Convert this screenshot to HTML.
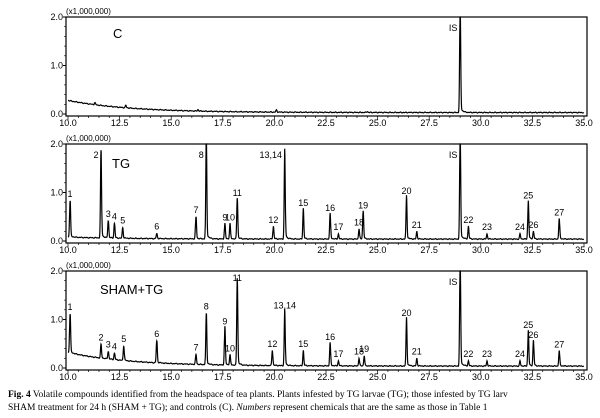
<!DOCTYPE html><html><head><style>body{margin:0;background:#fff}svg{display:block}text{font-family:"Liberation Sans",sans-serif}text.cap{font-family:"Liberation Serif",serif}</style></head><body>
<svg id="s" width="600" height="418" xmlns="http://www.w3.org/2000/svg"></svg>
<script>
const S=document.getElementById('s');let h='';
const X=t=>68+(t-10)*20.64;
const panels=[
{top:17,name:'C',nx:113,ny:38,base:t=>0.03+0.25*Math.exp(-(t-10)/3),
 peaks:[[29.0,2.1,''],[12.8,0.05,''],[11.3,0.04,''],[16.3,0.03,''],[20.1,0.04,''],[24.5,0.02,'']],labels:[[29.0,'IS',-12]]},
{top:144,name:'TG',nx:112,ny:168,base:t=>0.04+0.04*Math.exp(-(t-10)/3),
 peaks:[[10.1,0.75,'1'],[11.6,1.8,'2'],[11.95,0.35,'3'],[12.25,0.3,'4'],[12.65,0.22,'5'],[14.3,0.1,'6'],[16.2,0.45,'7'],[16.7,2.1,'8'],[17.6,0.3,'9'],[17.85,0.3,'10'],[18.2,0.8,'11'],[19.95,0.25,'12'],[20.5,1.75,'13,14'],[21.4,0.6,'15'],[22.7,0.5,'16'],[23.1,0.1,'17'],[24.1,0.2,'18'],[24.3,0.55,'19'],[26.4,0.85,'20'],[26.9,0.15,'21'],[29.0,2.1,''],[29.4,0.25,'22'],[30.3,0.1,'23'],[31.9,0.1,'24'],[32.3,0.75,'25'],[32.55,0.15,'26'],[33.8,0.4,'27']],labels:[[29.0,'IS',-12]]},
{top:271,name:'SHAM+TG',nx:100,ny:294,base:t=>0.04+0.28*Math.exp(-(t-10)/3),
 peaks:[[10.1,0.8,'1'],[11.6,0.28,'2'],[11.95,0.15,'3'],[12.25,0.13,'4'],[12.7,0.3,'5'],[14.3,0.45,'6'],[16.2,0.2,'7'],[16.7,1.05,'8'],[17.6,0.75,'9'],[17.85,0.2,'10'],[18.2,1.7,'11'],[19.9,0.3,'12'],[20.5,1.1,'13,14'],[21.4,0.3,'15'],[22.7,0.45,'16'],[23.1,0.1,'17'],[24.1,0.15,'18'],[24.35,0.2,'19'],[26.4,0.95,'20'],[26.9,0.15,'21'],[29.0,2.1,''],[29.4,0.1,'22'],[30.3,0.1,'23'],[31.9,0.1,'24'],[32.3,0.7,'25'],[32.55,0.5,'26'],[33.8,0.3,'27']],labels:[[29.0,'IS',-12]]}];
for(const p of panels){
 const T=p.top,B=T+97,sc=v=>B-v*(97/2.0);
 h+=`<text x="66" y="${T-3}" font-size="8">(x1,000,000)</text>`;
 h+=`<rect x="66" y="${T}" width="521" height="99" fill="none" stroke="#000" stroke-width="1.2"/>`;
 for(const[v,l] of [[0,'0.0'],[1,'1.0'],[2,'2.0']]){h+=`<text x="63" y="${sc(v)+3}" font-size="9" text-anchor="end">${l}</text><line x1="63" x2="66" y1="${sc(v)}" y2="${sc(v)}" stroke="#000"/>`;}
 for(let v=0.2;v<2;v+=0.2)h+=`<line x1="64" x2="66" y1="${sc(v)}" y2="${sc(v)}" stroke="#000" stroke-width=".6"/>`;
 for(let t=10;t<=35.01;t+=0.5){const big=Math.abs(t/2.5-Math.round(t/2.5))<0.01;h+=`<line x1="${X(t)}" x2="${X(t)}" y1="${T+99}" y2="${T+99+(big?4:2)}" stroke="#000" stroke-width=".7"/>`;if(big)h+=`<text x="${X(t)}" y="${T+109}" font-size="9" text-anchor="middle">${t.toFixed(1)}</text>`;}
 let pts=[];
 for(let t=10;t<=35;t+=0.01){let v=p.base(t)+0.01*Math.sin(t*37)*Math.sin(t*11);for(const k of p.peaks){const d=t-k[0];v+=k[1]*Math.exp(-d*d/(2*0.025*0.025))+k[1]*0.06*Math.exp(-Math.max(d,0)/0.1)*(d>0?1:0);}
  let y=Math.max(sc(v),T);pts.push(X(t).toFixed(1)+','+y.toFixed(1));}
 h+=`<polyline points="${pts.join(' ')}" fill="none" stroke="#000" stroke-width="1.2"/>`;
 h+=`<text x="${p.nx}" y="${p.ny}" font-size="13">${p.name}</text>`;
 for(const k of p.peaks){if(!k[2])continue;const hh=p.base(k[0])+k[1];
  if(hh>1.78){h+=`<text x="${X(k[0])-(k[2].length>1?14:5)}" y="${T+14}" font-size="9" text-anchor="middle">${k[2]}</text>`;}
  else{const y=Math.max(sc(hh)-4,T+10);h+=`<text x="${X(k[0])}" y="${y}" font-size="9" text-anchor="middle">${k[2]}</text>`;}}
 for(const l of p.labels)h+=`<text x="${X(l[0])-7}" y="${T+14}" font-size="9" text-anchor="middle">${l[1]}</text>`;
}
h+=`<text class="cap" x="8" y="397" font-size="9.5"><tspan font-weight="bold">Fig. 4</tspan> Volatile compounds identified from the headspace of tea plants. Plants infested by TG larvae (TG); those infested by TG larv</text>`;
h+=`<text class="cap" x="8" y="410" font-size="9.5">SHAM treatment for 24 h (SHAM + TG); and controls (C). <tspan font-style="italic">Numbers</tspan> represent chemicals that are the same as those in Table 1</text>`;
S.innerHTML=h;
</script></body></html>
